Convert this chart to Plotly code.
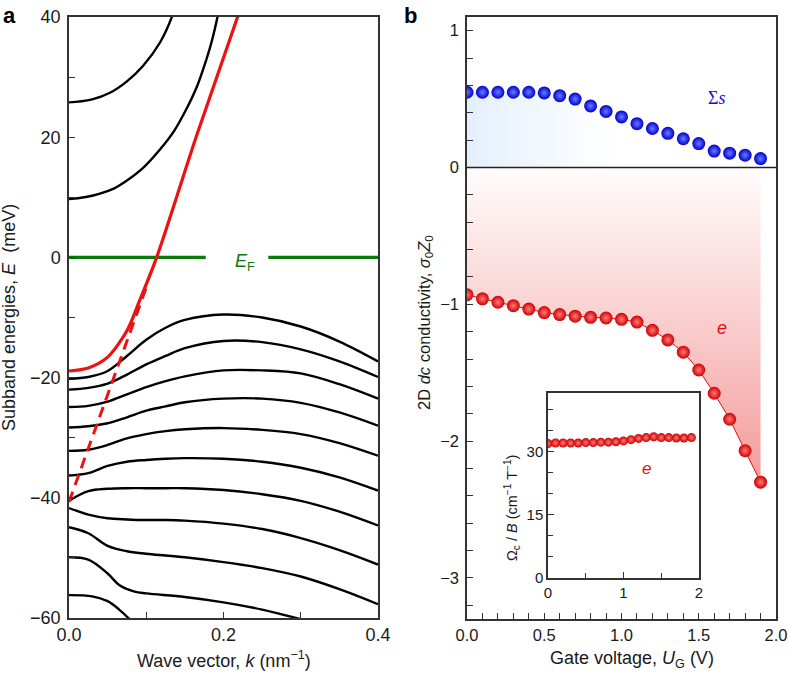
import plotly.graph_objects as go

# ---------------- Panel a data: subband energies E (meV) vs wave vector k (nm^-1)
K_C1 = [0, 0.03, 0.053, 0.075, 0.096, 0.118, 0.134]
E_C1 = [25.8, 26.3, 27.4, 29.3, 31.9, 35.8, 40.3]
K_C2 = [0, 0.04, 0.075, 0.118, 0.152, 0.178, 0.193]
E_C2 = [9.7, 10.6, 12.8, 18.0, 24.7, 33.0, 40.5]

K_RED = [0, 0.025, 0.05, 0.075, 0.092, 0.1135, 0.165, 0.219]
E_RED = [-18.9, -18.4, -16.6, -12.2, -7.0, 0.0, 20.2, 40.3]
K_DASH = [0.0, 0.1]
E_DASH = [-40.7, -5.0]

K_V = [0, 0.025, 0.05, 0.075, 0.1, 0.125, 0.15, 0.2, 0.25, 0.3, 0.35, 0.4]
E_V1 = [-20.2, -19.9, -18.9, -16.4, -13.7, -11.7, -10.4, -9.5, -10.0, -11.5, -14.0, -17.3]
E_V2 = [-22.0, -21.7, -21.0, -19.5, -17.8, -16.4, -15.1, -13.9, -14.1, -15.3, -17.3, -19.9]
E_V3 = [-24.9, -24.7, -24.0, -22.8, -21.6, -20.6, -19.8, -18.8, -18.8, -19.3, -21.1, -23.5]
E_V4 = [-28.3, -28.1, -27.6, -26.6, -25.5, -24.8, -24.1, -23.5, -23.5, -24.2, -25.8, -28.0]
E_V5 = [-32.2, -32.0, -31.2, -30.1, -29.4, -28.9, -28.6, -28.4, -28.7, -29.4, -30.9, -33.0]
E_V6 = [-36.3, -35.9, -34.7, -34.0, -33.7, -33.5, -33.4, -33.5, -34.0, -35.0, -36.6, -38.8]
E_V7 = [-40.5, -38.9, -38.5, -38.4, -38.4, -38.4, -38.4, -38.7, -39.4, -40.5, -42.3, -44.6]
E_V8 = [-41.7, -42.8, -43.4, -43.6, -43.7, -43.7, -43.8, -44.3, -45.2, -46.7, -48.7, -51.1]
E_V9 = [-44.9, -45.9, -48.0, -48.9, -49.3, -49.6, -49.9, -50.7, -51.7, -53.1, -55.2, -57.7]
K_V10 = [0, 0.025, 0.05, 0.065, 0.085, 0.1, 0.15, 0.2, 0.25, 0.3]
E_V10 = [-49.9, -50.3, -52.6, -54.5, -55.6, -55.9, -56.5, -57.4, -58.6, -60.2]
K_V11 = [0, 0.03, 0.05, 0.065, 0.08]
E_V11 = [-56.2, -56.4, -57.2, -58.6, -60.4]

EF_LEVEL = 0.0
EF_SEG1 = [0.0, 0.177]
EF_SEG2 = [0.258, 0.4]

# ---------------- Panel b data: conductivity vs gate voltage
U_G = [0.0, 0.1, 0.2, 0.3, 0.4, 0.5, 0.6, 0.7, 0.8, 0.9,
       1.0, 1.1, 1.2, 1.3, 1.4, 1.5, 1.6, 1.7, 1.8, 1.9]
SIGMA_S = [0.55, 0.55, 0.55, 0.55, 0.55, 0.545, 0.525, 0.50, 0.45, 0.41,
           0.37, 0.32, 0.285, 0.25, 0.21, 0.175, 0.12, 0.105, 0.09, 0.065]
SIGMA_E = [-0.93, -0.96, -0.985, -1.01, -1.035, -1.06, -1.075, -1.087, -1.095, -1.10,
           -1.11, -1.13, -1.19, -1.26, -1.35, -1.48, -1.65, -1.84, -2.07, -2.30]
# inset: Omega_c / B
OMEGA_B = [32.0, 32.1, 32.1, 32.1, 32.1, 32.2, 32.2, 32.3, 32.3, 32.4,
           32.6, 32.9, 33.2, 33.4, 33.6, 33.4, 33.4, 33.3, 33.3, 33.4]

W, H = 788, 673
FONT = "Liberation Sans, Arial, sans-serif"
TXT = "#1a1a1a"


def px(X):
    return X / W


def py(Y):
    return 1 - Y / H


fig = go.Figure()

# ---- panel a
black_bands = [(K_C1, E_C1, 1.3), (K_C2, E_C2, 1.3),
               (K_V, E_V1, 1.0), (K_V, E_V2, 1.0), (K_V, E_V3, 1.0), (K_V, E_V4, 1.0),
               (K_V, E_V5, 1.0), (K_V, E_V6, 1.0), (K_V, E_V7, 1.0), (K_V, E_V8, 1.0),
               (K_V, E_V9, 1.0), (K_V10, E_V10, 1.0), (K_V11, E_V11, 1.0)]
for kk, ee, sm in black_bands:
    fig.add_trace(go.Scatter(x=kk, y=ee, mode="lines",
                             line=dict(color="black", width=2.4, shape="spline", smoothing=sm),
                             xaxis="x", yaxis="y", showlegend=False, hoverinfo="skip"))

fig.add_trace(go.Scatter(x=EF_SEG1, y=[EF_LEVEL] * 2, mode="lines",
                         line=dict(color="#0a7a0a", width=3.2), xaxis="x", yaxis="y", showlegend=False))
fig.add_trace(go.Scatter(x=EF_SEG2, y=[EF_LEVEL] * 2, mode="lines",
                         line=dict(color="#0a7a0a", width=3.2), xaxis="x", yaxis="y", showlegend=False))

fig.add_trace(go.Scatter(x=K_DASH, y=E_DASH, mode="lines",
                         line=dict(color="#ee1111", width=3, dash="11px,7px"),
                         xaxis="x", yaxis="y", showlegend=False))
fig.add_trace(go.Scatter(x=K_RED, y=E_RED, mode="lines",
                         line=dict(color="#ee1111", width=3.2, shape="spline", smoothing=0.8),
                         xaxis="x", yaxis="y", showlegend=False))

# ---- panel b fills
fig.add_trace(go.Scatter(x=U_G + U_G[::-1], y=SIGMA_S + [0] * len(U_G), mode="lines",
                         fill="toself", line=dict(width=0),
                         fillgradient=dict(type="horizontal", start=0, stop=1.1,
                                           colorscale=[[0, "rgba(222,236,251,0.85)"],
                                                       [0.5, "rgba(236,244,253,0.6)"],
                                                       [1, "rgba(255,255,255,0)"]]),
                         xaxis="x2", yaxis="y2", showlegend=False, hoverinfo="skip"))
fig.add_trace(go.Scatter(x=U_G + U_G[::-1], y=SIGMA_E + [0] * len(U_G), mode="lines",
                         fill="toself", line=dict(width=0),
                         fillgradient=dict(type="vertical", start=-2.3, stop=0,
                                           colorscale=[[0, "rgb(243,155,155)"],
                                                       [0.55, "rgb(250,210,210)"],
                                                       [1, "rgb(255,252,252)"]]),
                         xaxis="x2", yaxis="y2", showlegend=False, hoverinfo="skip"))

# ---- panel b points
fig.add_trace(go.Scatter(x=U_G, y=SIGMA_E, mode="lines+markers",
                         line=dict(color="#e01010", width=1),
                         marker=dict(size=13, color="#d00000",
                                     gradient=dict(type="radial", color="#ff7a7a"),
                                     line=dict(width=0)),
                         xaxis="x2", yaxis="y2", showlegend=False))
fig.add_trace(go.Scatter(x=U_G, y=SIGMA_S, mode="markers",
                         marker=dict(size=13, color="#0000d0",
                                     gradient=dict(type="radial", color="#6a7cff"),
                                     line=dict(width=0)),
                         xaxis="x2", yaxis="y2", showlegend=False))

# ---- inset
fig.add_trace(go.Scatter(x=U_G, y=OMEGA_B, mode="markers",
                         marker=dict(size=9, color="#d00000",
                                     gradient=dict(type="radial", color="#ff7a7a"),
                                     line=dict(width=0)),
                         xaxis="x3", yaxis="y3", showlegend=False))

axis_common = dict(showgrid=False, zeroline=False, showline=True, linecolor="#333",
                   linewidth=1.5, mirror=True, ticks="inside", ticklen=6, tickwidth=1.2,
                   tickcolor="#333", layer="above traces", automargin=False,
                   tickfont=dict(family=FONT, size=17, color=TXT))
FA = dict(family=FONT, size=18, color=TXT)
FB = dict(family=FONT, size=16.5, color=TXT)

fig.update_layout(
    width=W, height=H, margin=dict(l=0, r=0, t=0, b=0, pad=0),
    paper_bgcolor="white", plot_bgcolor="rgba(0,0,0,0)",
    xaxis=dict(axis_common, domain=[px(69), px(378)], range=[0, 0.4], dtick=0.2, tick0=0,
               tickformat=".1f", anchor="y", tickfont=FA,
               minor=dict(dtick=0.1, ticks="inside", ticklen=6, tickcolor="#333")),
    yaxis=dict(axis_common, domain=[py(618), py(17)], range=[-60, 40], dtick=20, tick0=0,
               anchor="x", ticklabelstandoff=3, tickfont=FA,
               minor=dict(dtick=10, ticks="inside", ticklen=6, tickcolor="#333")),
    xaxis2=dict(axis_common, domain=[px(467), px(776)], range=[0, 2], dtick=0.5, tick0=0,
                tickformat=".1f", anchor="y2", tickfont=FB,
                minor=dict(dtick=0.1, ticks="inside", ticklen=6, tickcolor="#333")),
    yaxis2=dict(axis_common, domain=[py(619), py(17)], range=[-3.3, 1.1], dtick=1, tick0=0,
                anchor="x2", ticklabelstandoff=3, tickfont=FB,
                minor=dict(dtick=0.2, ticks="inside", ticklen=6, tickcolor="#333")),
    xaxis3=dict(axis_common, domain=[px(548), px(699)], range=[0, 2], dtick=1, tick0=0,
                anchor="y3", tickfont=dict(family=FONT, size=15, color=TXT),
                minor=dict(dtick=0.5, ticks="inside", ticklen=5, tickcolor="#333")),
    yaxis3=dict(axis_common, domain=[py(578), py(393)], range=[0, 44], dtick=15, tick0=0,
                anchor="x3", tickfont=dict(family=FONT, size=15, color=TXT),
                minor=dict(dtick=5, ticks="inside", ticklen=5, tickcolor="#333")),
)

# zero line of panel b
fig.add_shape(type="line", xref="x2 domain", yref="y2", x0=0, x1=1, y0=0, y1=0,
              line=dict(color="#222", width=1.6), layer="above")

ann = [
    dict(x=px(1), y=py(15), text="<b>a</b>", size=22, color="black", xa="left"),
    dict(x=px(402), y=py(15), text="<b>b</b>", size=22, color="black", xa="left"),
    dict(x=px(9), y=py(318), text="Subband energies, <i>E</i>  (meV)", size=18, color=TXT, angle=-90),
    dict(x=px(224), y=py(659), text="Wave vector, <i>k</i> (nm<sup>−1</sup>)", size=18, color=TXT),
    dict(x=px(425), y=py(323), text="2D <i>dc</i> conductivity, <i>σ</i><sub>0</sub><i>Z</i><sub>0</sub>",
         size=16.5, color=TXT, angle=-90),
    dict(x=px(632), y=py(659), text="Gate voltage, <i>U</i><sub>G</sub> (V)", size=18, color=TXT),
    dict(x=px(512), y=py(508), text="Ω<sub>c</sub> / <i>B</i> (cm<sup>−1</sup> T<sup>−1</sup>)",
         size=14.5, color=TXT, angle=-90),
]
for a in ann:
    fig.add_annotation(x=a["x"], y=a["y"], xref="paper", yref="paper", text=a["text"],
                       showarrow=False, textangle=a.get("angle", 0),
                       xanchor=a.get("xa", "center"), yanchor="middle",
                       font=dict(family=FONT, size=a["size"], color=a["color"]))

fig.add_annotation(x=0.228, y=-0.8, xref="x", yref="y", text="<i>E</i><sub>F</sub>",
                   showarrow=False, font=dict(family=FONT, size=18, color="#0a7a0a"))
fig.add_annotation(x=1.62, y=0.51, xref="x2", yref="y2", text="Σ<i>s</i>",
                   showarrow=False, font=dict(family="Liberation Serif, serif", size=18, color="#1010d0"))
fig.add_annotation(x=1.65, y=-1.17, xref="x2", yref="y2", text="<i>e</i>",
                   showarrow=False, font=dict(family=FONT, size=18, color="#e01010"))
fig.add_annotation(x=1.3, y=26, xref="x3", yref="y3", text="<i>e</i>",
                   showarrow=False, font=dict(family=FONT, size=17, color="#e01010"))

fig.write_html("out.html", config={"displayModeBar": False},
               post_script="document.body.style.margin='0';document.body.style.overflow='hidden';")
